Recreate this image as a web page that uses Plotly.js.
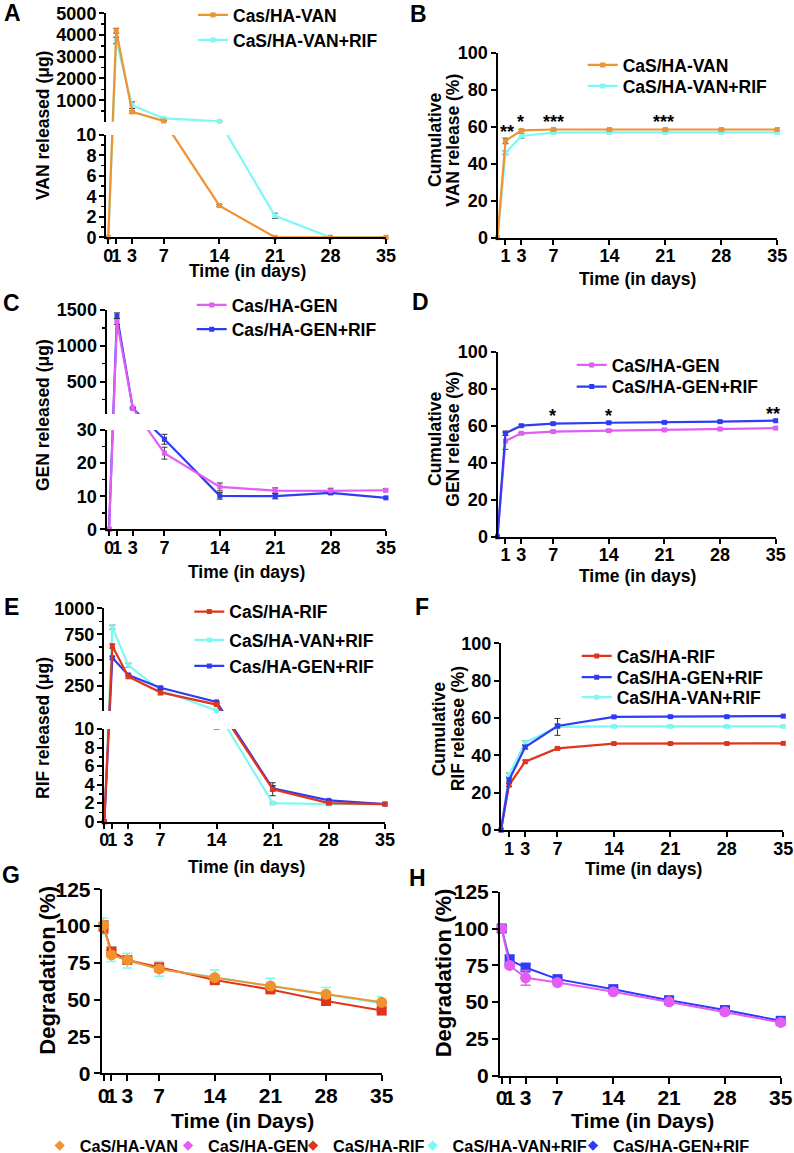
<!DOCTYPE html>
<html><head><meta charset="utf-8">
<script src="https://cdn.plot.ly/plotly-3.0.1.min.js"></script>
<style>html,body{margin:0;padding:0;background:#fff;overflow:hidden;width:794px;height:1153px}
#chart{position:absolute;left:0;top:-10px;width:794px;height:1177px}</style>
</head><body><div id="chart"></div>
<script>
// ---------------- data ----------------
const days = [0, 1, 3, 7, 14, 21, 28, 35];
const dayTicks = [0, 1, 3, 7, 14, 21, 28, 35];
const cumDayTicks = [1, 3, 7, 14, 21, 28, 35];
const pctTicks = [0, 20, 40, 60, 80, 100];
const degTicks = [0, 25, 50, 75, 100, 125];

// A: VAN released (ug)
const aVan = [0, 4200, 460, 40, 3.1, 0, 0, 0];
const aVanErr = [0, 110, 50, 5, 0.1, 0, 0, 0];
const aVanRif = [0, 3750, 770, 160, 25, 2.1, 0, 0];
const aVanRifErr = [0, 150, 150, 10, 5, 0.25, 0, 0];
const aLowTicks = [0, 2, 4, 6, 8, 10], aLowMinor = [1, 3, 5, 7, 9];
const aUpTicks = [1000, 2000, 3000, 4000, 5000], aUpMinor = [500, 1500, 2500, 3500, 4500];

// B: cumulative VAN release (%)
const bVan = [0, 52.3, 58.0, 58.5, 58.5, 58.5, 58.5, 58.5];
const bVanErr = [0, 1.5, 0.5, 0.3, 0.3, 0.3, 0.3, 0.3];
const bVanRif = [0, 45.9, 55.0, 56.8, 56.9, 56.9, 56.9, 56.9];
const bVanRifErr = [0, 1.0, 1.2, 0.5, 0.3, 0.3, 0.3, 0.3];
const bStars = ['**', '*', '***', '***'];
const bStarDays = [1.15, 2.85, 7, 20.8];
const bStarY = [57.1, 62.5, 62.5, 62.5];

// C: GEN released (ug)
const cGen = [0, 1340, 130, 23, 12.8, 11.7, 11.6, 11.8];
const cGenErr = [0, 40, 10, 1.8, 1.2, 0.8, 0.8, 0.5];
const cGenRif = [0, 1420, 130, 27.2, 10.1, 10.0, 11.0, 9.5];
const cGenRifErr = [0, 40, 10, 1.5, 1.0, 0.8, 0.5, 0.3];
const cLowTicks = [0, 10, 20, 30], cLowMinor = [5, 15, 25];
const cUpTicks = [500, 1000, 1500], cUpMinor = [250, 750, 1250];

// D: cumulative GEN release (%)
const dGen = [0, 51.7, 55.9, 56.8, 57.3, 57.7, 58.2, 58.7];
const dGenErr = [0, 4.5, 0.5, 0.5, 0.5, 0.5, 0.5, 0.5];
const dGenRif = [0, 55.9, 60.0, 61.1, 61.6, 61.8, 62.2, 62.7];
const dGenRifErr = [0, 1.2, 0.5, 0.5, 0.5, 0.5, 0.5, 0.5];
const dStars = ['*', '*', '**'];
const dStarDays = [6.98, 14, 34.7];
const dStarY = [65.4, 65.4, 66.3];

// E: RIF released (ug)
const eRif = [0, 636, 340, 190, 72, 3.5, 2.0, 1.9];
const eRifErr = [0, 20, 15, 25, 10, 0.7, 0.1, 0.1];
const eVanRif = [0, 817, 450, 210, 15, 2.0, 1.9, 1.9];
const eVanRifErr = [0, 20, 20, 15, 5, 0.1, 0.1, 0.1];
const eGenRif = [0, 523, 357, 234, 98, 3.6, 2.3, 1.9];
const eGenRifErr = [0, 15, 10, 10, 5, 0.3, 0.1, 0.1];
const eLowTicks = [0, 2, 4, 6, 8, 10], eLowMinor = [1, 3, 5, 7, 9];
const eUpTicks = [250, 500, 750, 1000], eUpMinor = [125, 375, 625, 875];

// F: cumulative RIF release (%)
const fRif = [0, 24.1, 36.6, 43.7, 46.3, 46.3, 46.3, 46.4];
const fRifErr = [0, 0.8, 0.8, 0.6, 0.4, 0.4, 0.4, 0.4];
const fGenRif = [0, 26.8, 44.4, 55.7, 60.6, 60.7, 60.7, 61.0];
const fGenRifErr = [0, 1.0, 1.0, 1.0, 0.5, 0.5, 0.5, 0.5];
const fVanRif = [0, 29.5, 46.8, 55.2, 55.5, 55.5, 55.5, 55.5];
const fVanRifErr = [0, 1.0, 1.0, 4.5, 0.4, 0.4, 0.4, 0.4];

// G: degradation (%)
const gVanRif = [100, 81, 76.5, 71, 65.2, 59.5, 53.3, 47.6];
const gVanRifErr = [5.5, 5, 5, 5, 5, 5, 5, 4.5];
const gRif = [99.5, 82.7, 77, 72, 63.4, 57, 49.1, 42.6];
const gRifErr = [4, 1, 1, 1, 1, 1, 1, 1];
const gVan = [100.5, 80.4, 77, 70.9, 65, 59.3, 53.7, 48.2];
const gVanErr = [1.5, 1, 1, 1, 1, 1, 1, 1];

// H: degradation (%)
const hGenRif = [100, 78.5, 73.5, 65.6, 58.8, 51.3, 44.6, 37.3];
const hGenRifErr = [2, 3.5, 2, 1, 1, 1, 1, 1];
const hGen = [100, 74.9, 66.5, 63.3, 57, 50.2, 43.4, 36.2];
const hGenErr = [1.5, 1.5, 5, 1, 1, 1, 1, 1];

// ---------------- styling / layout helpers ----------------
const FONT = 'Liberation Sans, Arial, Helvetica, sans-serif';
const W = 794, OFF = 10, H = 1177;   // figure extends 10px above and 14px below the page
const TS = 18, TITLE = 17.5, LEG = 17.5;
const ORANGE = '#EE932F', CYAN = '#7FF8F4', MAGENTA = '#E35DF2', BLUE = '#2E3CF5', RED = '#E0341B';
const py = p => 1 - (p + OFF) / H;   // page pixel row -> paper fraction

const layout = {
  width: W, height: H, margin: {l: 0, r: 0, t: 0, b: 0},
  paper_bgcolor: '#ffffff', plot_bgcolor: 'rgba(0,0,0,0)',
  showlegend: true, annotations: [],
  font: {family: FONT, color: '#000'}
};
const data = [];
let xi = 0, yi = 0, li = 0;

function baseAxis(ts) {
  return {showline: true, linecolor: '#000', linewidth: 2, ticks: 'outside', ticklen: 5,
    tickwidth: 2, tickcolor: '#000', showgrid: false, zeroline: false, tickangle: 0,
    fixedrange: true, tickfont: {family: FONT, size: ts, color: '#000', weight: 'bold'}};
}
function addX(domPx, range, tickvals, ts) {
  xi++;
  const name = xi === 1 ? 'x' : 'x' + xi, key = 'xaxis' + (xi === 1 ? '' : xi);
  layout[key] = Object.assign(baseAxis(ts), {domain: [domPx[0] / W, domPx[1] / W], range,
    tickmode: 'array', tickvals, ticktext: tickvals.map(String), ticklabelstandoff: -4});
  return {name, key};
}
function addY(domPx, range, tickvals, ticktext, minorvals, ts) {
  yi++;
  const name = yi === 1 ? 'y' : 'y' + yi, key = 'yaxis' + (yi === 1 ? '' : yi);
  const ax = Object.assign(baseAxis(ts), {domain: [py(domPx[1]), py(domPx[0])], range,
    tickmode: 'array', tickvals, ticktext, ticklabelstandoff: -1});
  if (minorvals) ax.minor = {tickmode: 'array', tickvals: minorvals, ticks: 'outside', ticklen: 3,
    tickwidth: 1.5, tickcolor: '#000', showgrid: false};
  layout[key] = ax;
  return {name, key};
}
function addLegend(textStartPx, rowPx, size) {
  li++;
  const id = li === 1 ? 'legend' : 'legend' + li;
  layout[id] = {x: (textStartPx - 40) / W, y: py(rowPx), xanchor: 'left', yanchor: 'middle',
    bgcolor: 'rgba(0,0,0,0)', borderwidth: 0, itemclick: false, itemdoubleclick: false,
    font: {family: FONT, size: size, color: '#000', weight: 'bold'}};
  return id;
}
function nz(a) { return a.map(v => (v > 0 ? v : NaN)); }
function trace(xn, yn, y, eu, ed, s, withLegend) {
  const t = {type: 'scatter', mode: 'lines+markers', name: s.name, x: days, y, xaxis: xn, yaxis: yn,
    cliponaxis: false, hoverinfo: 'skip',
    line: {color: s.color, width: s.lw || 2.2},
    marker: {color: s.color, size: s.ms || 5, symbol: s.sym || 'square'},
    showlegend: !!(withLegend && s.legend)};
  if (withLegend && s.legend) t.legend = s.legend;
  if (eu) t.error_y = {type: 'data', symmetric: false, array: nz(eu), arrayminus: nz(ed),
    color: s.ec || '#333', thickness: s.et || 1, width: s.ew || 3};
  return t;
}
function brokenMap(c) {
  const lowH = c.pxZero - c.pxLowTop, gap = c.pxLowTop - c.pxUpBot, upH = c.pxUpBot - c.pxUpTop;
  const f = v => (v <= c.lowMax ? v * lowH / c.lowMax : lowH + gap + (v - c.upMin) * upH / (c.upMax - c.upMin));
  return {f, lowRange: [0, lowH], upRange: [lowH + gap, lowH + gap + upH],
    lowDom: [c.pxLowTop, c.pxZero], upDom: [c.pxUpTop, c.pxUpBot]};
}
function panelBroken(p) {
  const m = brokenMap(p.cfg);
  const xa = addX(p.xDom, p.xRange, dayTicks, TS);
  const yl = addY(m.lowDom, m.lowRange, p.lowTicks.map(m.f), p.lowTicks.map(String), p.lowMinor.map(m.f), TS);
  const yu = addY(m.upDom, m.upRange, p.upTicks.map(m.f), p.upTicks.map(String), p.upMinor.map(m.f), TS);
  layout[xa.key].anchor = yl.name; layout[yl.key].anchor = xa.name; layout[yu.key].anchor = xa.name;
  p.series.forEach(s => {
    const yv = s.y.map(m.f);
    const eu = s.y.map((v, i) => m.f(v + s.err[i]) - m.f(v));
    const ed = s.y.map((v, i) => m.f(v) - m.f(Math.max(0, v - s.err[i])));
    data.push(trace(xa.name, yl.name, yv, eu, ed, s, true));
    data.push(trace(xa.name, yu.name, yv, eu, ed, s, false));
  });
  return {xa, yl, yu};
}
function panelPlain(p) {
  const xa = addX(p.xDom, p.xRange, p.xTicks, p.ts);
  const ya = addY(p.yDom, p.yRange, p.yTicks, p.yTicks.map(String), null, p.ts);
  layout[xa.key].anchor = ya.name; layout[ya.key].anchor = xa.name;
  layout[xa.key].ticklen = p.tl || 5; layout[ya.key].ticklen = p.tl || 5;
  p.series.forEach(s => data.push(trace(xa.name, ya.name, s.y, s.err, s.err, s, true)));
  return {xa, ya};
}
function note(text, xpx, ypx, size, angle) {
  layout.annotations.push({text, xref: 'paper', yref: 'paper', x: xpx / W, y: py(ypx),
    xanchor: 'center', yanchor: 'middle', showarrow: false, textangle: angle || 0,
    font: {family: FONT, size, color: '#000', weight: 'bold'}});
}
function stars(labels, xs, ys, xn, yn) {
  labels.forEach((t, i) => layout.annotations.push({text: t, xref: xn, yref: yn, x: xs[i], y: ys[i],
    xanchor: 'center', yanchor: 'middle', showarrow: false,
    font: {family: FONT, size: 18, color: '#000', weight: 'bold'}}));
}

// ---------------- Panel A ----------------
const lA1 = addLegend(233, 15, LEG), lA2 = addLegend(233, 40, LEG);
panelBroken({
  cfg: {lowMax: 10, upMin: 10, upMax: 5000, pxZero: 237.3, pxLowTop: 135, pxUpBot: 121.7, pxUpTop: 13.3},
  xDom: [106, 386], xRange: [-0.29, 35],
  lowTicks: aLowTicks, lowMinor: aLowMinor, upTicks: aUpTicks, upMinor: aUpMinor,
  series: [
    {name: 'CaS/HA-VAN+RIF', y: aVanRif, err: aVanRifErr, color: CYAN, legend: lA2},
    {name: 'Cas/HA-VAN', y: aVan, err: aVanErr, color: ORANGE, legend: lA1}
  ]
});
note('VAN released (\u03bcg)', 43, 126, TITLE, -90);
note('Time (in days)', 247, 271, TITLE);

// ---------------- Panel B ----------------
const lB1 = addLegend(622.7, 65, LEG), lB2 = addLegend(622.7, 86, LEG);
const pB = panelPlain({
  xDom: [497.5, 777.3], xRange: [0, 35], xTicks: cumDayTicks,
  yDom: [52.7, 237.7], yRange: [0, 100], yTicks: pctTicks, ts: TS,
  series: [
    {name: 'CaS/HA-VAN+RIF', y: bVanRif, err: bVanRifErr, color: CYAN, legend: lB2},
    {name: 'CaS/HA-VAN', y: bVan, err: bVanErr, color: ORANGE, legend: lB1}
  ]
});
stars(bStars, bStarDays, bStarY, pB.xa.name, pB.ya.name);
note('Cumulative', 435, 140, TITLE, -90);
note('VAN release (%)', 452.7, 140, TITLE, -90);
note('Time (in days)', 637, 279, TITLE);

// ---------------- Panel C ----------------
const lC1 = addLegend(231.7, 305, LEG), lC2 = addLegend(231.7, 329.3, LEG);
panelBroken({
  cfg: {lowMax: 30, upMin: 50, upMax: 1500, pxZero: 529.3, pxLowTop: 430, pxUpBot: 413.9, pxUpTop: 310},
  xDom: [106.5, 386], xRange: [-0.32, 35],
  lowTicks: cLowTicks, lowMinor: cLowMinor, upTicks: cUpTicks, upMinor: cUpMinor,
  series: [
    {name: 'Cas/HA-GEN+RIF', y: cGenRif, err: cGenRifErr, color: BLUE, legend: lC2},
    {name: 'Cas/HA-GEN', y: cGen, err: cGenErr, color: MAGENTA, legend: lC1}
  ]
});
note('GEN released (\u03bcg)', 43, 415, TITLE, -90);
note('Time (in days)', 246.7, 572, TITLE);

// ---------------- Panel D ----------------
const lD1 = addLegend(611.7, 365, LEG), lD2 = addLegend(611.7, 386.7, LEG);
const pD = panelPlain({
  xDom: [497.5, 775.7], xRange: [0, 35], xTicks: cumDayTicks,
  yDom: [351.7, 536.7], yRange: [0, 100], yTicks: pctTicks, ts: TS,
  series: [
    {name: 'CaS/HA-GEN', y: dGen, err: dGenErr, color: MAGENTA, legend: lD1},
    {name: 'CaS/HA-GEN+RIF', y: dGenRif, err: dGenRifErr, color: BLUE, legend: lD2}
  ]
});
stars(dStars, dStarDays, dStarY, pD.xa.name, pD.ya.name);
note('Cumulative', 435, 439, TITLE, -90);
note('GEN release (%)', 452.7, 439, TITLE, -90);
note('Time (in days)', 637, 576, TITLE);

// ---------------- Panel E ----------------
const lE1 = addLegend(229.3, 611.7, LEG), lE2 = addLegend(229.3, 640, LEG), lE3 = addLegend(229.3, 666, LEG);
panelBroken({
  cfg: {lowMax: 10, upMin: 10, upMax: 1000, pxZero: 821.7, pxLowTop: 729, pxUpBot: 711, pxUpTop: 608.3},
  xDom: [104, 385], xRange: [-0.04, 35],
  lowTicks: eLowTicks, lowMinor: eLowMinor, upTicks: eUpTicks, upMinor: eUpMinor,
  series: [
    {name: 'CaS/HA-VAN+RIF', y: eVanRif, err: eVanRifErr, color: CYAN, legend: lE2},
    {name: 'Cas/HA-GEN+RIF', y: eGenRif, err: eGenRifErr, color: BLUE, legend: lE3},
    {name: 'CaS/HA-RIF', y: eRif, err: eRifErr, color: RED, legend: lE1}
  ]
});
note('RIF released (\u03bcg)', 43, 728, TITLE, -90);
note('Time (in days)', 246, 867, TITLE);

// ---------------- Panel F ----------------
const lF1 = addLegend(616.7, 656, LEG), lF2 = addLegend(616.7, 677.3, LEG), lF3 = addLegend(616.7, 697.3, LEG);
panelPlain({
  xDom: [501, 783.3], xRange: [0, 35], xTicks: cumDayTicks,
  yDom: [643.3, 830], yRange: [0, 100], yTicks: pctTicks, ts: TS,
  series: [
    {name: 'CaS/HA-VAN+RIF', y: fVanRif, err: fVanRifErr, color: CYAN, legend: lF3},
    {name: 'CaS/HA-RIF', y: fRif, err: fRifErr, color: RED, legend: lF1},
    {name: 'CaS/HA-GEN+RIF', y: fGenRif, err: fGenRifErr, color: BLUE, legend: lF2}
  ]
});
note('Cumulative', 439.3, 729, TITLE, -90);
note('RIF release (%)', 458.3, 729, TITLE, -90);
note('Time (in days)', 643.3, 869, TITLE);

// ---------------- Panel G ----------------
const pG = panelPlain({
  xDom: [101.7, 381.7], xRange: [-0.23, 35], xTicks: dayTicks,
  yDom: [889.3, 1073.3], yRange: [0, 125], yTicks: degTicks, ts: 21, tl: 6,
  series: [
    {name: 'CaS/HA-VAN+RIF', y: gVanRif, err: gVanRifErr, color: CYAN, ec: CYAN, et: 1.5, ew: 5, sym: 'triangle-up', ms: 9, lw: 2},
    {name: 'CaS/HA-RIF', y: gRif, err: gRifErr, color: RED, ec: RED, et: 1.5, ew: 5, sym: 'square', ms: 10, lw: 2},
    {name: 'CaS/HA-VAN', y: gVan, err: gVanErr, color: ORANGE, ec: ORANGE, et: 1.5, ew: 5, sym: 'circle', ms: 11, lw: 2}
  ]
});
note('Degradation (%)', 46.7, 970, 22, -90);
note('Time (in Days)', 242.5, 1120, 21);

// ---------------- Panel H ----------------
const pH = panelPlain({
  xDom: [500, 780.7], xRange: [-0.21, 35], xTicks: dayTicks,
  yDom: [891.7, 1075.7], yRange: [0, 125], yTicks: degTicks, ts: 21, tl: 6,
  series: [
    {name: 'CaS/HA-GEN+RIF', y: hGenRif, err: hGenRifErr, color: BLUE, ec: BLUE, et: 1.5, ew: 5, sym: 'square', ms: 10, lw: 2},
    {name: 'CaS/HA-GEN', y: hGen, err: hGenErr, color: MAGENTA, ec: MAGENTA, et: 1.5, ew: 5, sym: 'circle', ms: 11, lw: 2}
  ]
});
note('Degradation (%)', 443.3, 973, 22, -90);
note('Time (in Days)', 642.5, 1120, 21);

// ---------------- shared bottom legend ----------------
const bottomNames = ['CaS/HA-VAN', 'CaS/HA-GEN', 'CaS/HA-RIF', 'CaS/HA-VAN+RIF', 'CaS/HA-GEN+RIF'];
const bottomColors = [ORANGE, MAGENTA, RED, CYAN, BLUE];
const bottomTextStart = [76.7, 205, 330, 449.6, 610];
bottomNames.forEach((n, i) => {
  const lg = addLegend(bottomTextStart[i] + 3, 1146, 16.3);
  data.push({type: 'scatter', mode: 'markers', name: n, x: [null], y: [null],
    xaxis: pG.xa.name, yaxis: pG.ya.name, marker: {color: bottomColors[i], size: 8, symbol: 'diamond'},
    showlegend: true, legend: lg, hoverinfo: 'skip'});
});

// ---------------- panel letters ----------------
[['A', 12, 13], ['B', 418.3, 13.7], ['C', 11, 302.5], ['D', 421, 302],
 ['E', 11, 607], ['F', 422, 607], ['G', 11, 875], ['H', 417.5, 877.5]].forEach(l => note(l[0], l[1], l[2], 23));

Plotly.newPlot('chart', data, layout, {staticPlot: true, displayModeBar: false});
</script>
</body></html>
